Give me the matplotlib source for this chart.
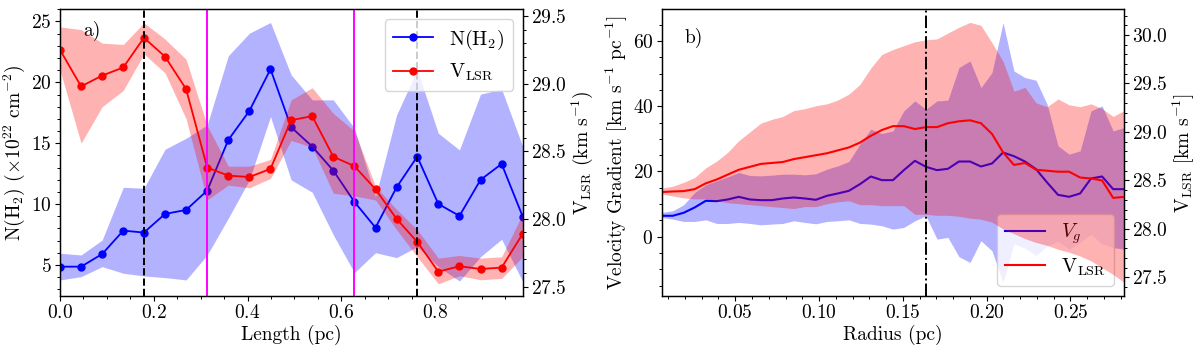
import matplotlib
matplotlib.use('Agg')
import matplotlib.pyplot as plt
from matplotlib.ticker import MultipleLocator

plt.rcParams['font.family'] = 'cmr10'
plt.rcParams['mathtext.fontset'] = 'cm'
plt.rcParams['axes.formatter.use_mathtext'] = True
plt.rcParams['font.size'] = 14
plt.rcParams['axes.linewidth'] = 0.9

# ---------------- Panel a data ----------------
length = [0.0, 0.045, 0.090, 0.135, 0.179, 0.224, 0.269, 0.314, 0.359, 0.404,
          0.449, 0.493, 0.538, 0.583, 0.628, 0.673, 0.718, 0.762, 0.807, 0.852,
          0.897, 0.942, 0.987]
nh2 = [4.86, 4.86, 5.9, 7.82, 7.66, 9.19, 9.52, 11.11, 15.27, 17.66,
       21.08, 16.32, 14.73, 12.75, 10.18, 8.07, 11.38, 13.9, 10.01, 9.03,
       11.99, 13.3, 8.97]
nh2_hi = [5.96, 5.82, 7.05, 11.38, 11.3, 14.5, 15.41, 16.5, 22.18, 24.04,
          24.92, 20.62, 18.56, 18.56, 16.23, 10.6, 17.33, 21.03, 15.82, 14.45,
          19.03, 19.44, 14.73]
nh2_lo = [3.77, 4.04, 4.86, 4.32, 4.1, 3.96, 3.77, 5.82, 8.84, 11.99,
          17.19, 11.99, 10.97, 7.47, 4.37, 6.01, 5.6, 6.51, 4.86, 3.68,
          5.68, 7.11, 3.63]
vlsr_a = [29.25, 28.98, 29.06, 29.12, 29.34, 29.2, 28.96, 28.38, 28.32, 28.31,
          28.37, 28.73, 28.76, 28.46, 28.39, 28.22, 28.0, 27.83, 27.61, 27.65,
          27.63, 27.64, 27.89]
vlsr_a_hi = [29.42, 29.4, 29.3, 29.29, 29.45, 29.33, 29.18, 28.69, 28.39, 28.39,
             28.44, 28.88, 28.97, 28.78, 28.65, 28.24, 28.07, 27.92, 27.71, 27.73,
             27.71, 27.72, 28.04]
vlsr_a_lo = [29.1, 28.56, 28.83, 28.95, 29.22, 29.08, 28.74, 28.14, 28.25, 28.23,
             28.3, 28.58, 28.53, 28.19, 28.17, 28.14, 27.92, 27.72, 27.52, 27.58,
             27.55, 27.56, 27.72]
dashed_a = [0.179, 0.762]
magenta_a = [0.314, 0.628]

# ---------------- Panel b data ----------------
radius = [0.0061, 0.0127, 0.0192, 0.0258, 0.0324, 0.0390, 0.0455, 0.0521, 0.0587,
          0.0652, 0.0718, 0.0784, 0.0849, 0.0915, 0.0981, 0.1047, 0.1112, 0.1178,
          0.1244, 0.1309, 0.1375, 0.1441, 0.1506, 0.1572, 0.1638, 0.1704, 0.1769,
          0.1835, 0.1901, 0.1966, 0.2032, 0.2098, 0.2163, 0.2229, 0.2295, 0.2361,
          0.2426, 0.2492, 0.2558, 0.2623, 0.2689, 0.2755, 0.2820]
vg = [6.43, 6.43, 7.35, 8.98, 11.02, 10.92, 11.43, 12.24, 11.43, 11.22,
      11.22, 11.73, 12.04, 11.73, 11.33, 12.55, 13.27, 14.08, 16.12, 18.47,
      17.35, 17.35, 20.41, 23.27, 21.43, 20.41, 20.82, 23.06, 23.06, 21.53,
      22.45, 25.82, 24.69, 23.06, 20.71, 16.63, 12.86, 12.24, 13.27, 17.86,
      18.47, 14.59, 14.59]
vg_hi = [7.45, 7.96, 9.8, 13.57, 15.92, 17.14, 18.37, 19.69, 18.78, 18.67,
         18.88, 19.18, 19.18, 18.98, 19.3, 20.71, 21.73, 23.06, 28.37, 32.96,
         31.63, 32.45, 38.57, 41.63, 39.08, 41.63, 41.84, 51.84, 53.88, 45.71,
         50.31, 65.61, 50.82, 48.78, 47.96, 40.6, 27.86, 25.31, 26.33, 38.57,
         40.1, 32.45, 33.47]
vg_lo = [5.92, 5.41, 4.69, 4.69, 5.2, 4.08, 4.08, 4.39, 4.08, 3.67,
         3.88, 4.08, 4.9, 4.39, 3.98, 4.69, 4.9, 5.2, 4.08, 3.88,
         3.37, 2.35, 2.86, 4.9, 6.43, -0.71, -0.2, -6.12, -7.86, -1.2,
         -4.3, -14.0, -2.2, -3.5, -5.8, -2.8, -1.4, -3.8, -1.7, 0.8,
         -2.2, -3.3, -3.8]
vlsr_b = [28.38, 28.386, 28.39, 28.41, 28.47, 28.51, 28.56, 28.61, 28.64, 28.67,
          28.68, 28.69, 28.72, 28.74, 28.76, 28.78, 28.81, 28.84, 28.89, 28.96,
          29.02, 29.06, 29.06, 29.03, 29.05, 29.05, 29.09, 29.11, 29.12, 29.09,
          28.98, 28.79, 28.66, 28.68, 28.61, 28.6, 28.59, 28.59, 28.53, 28.52,
          28.5, 28.32, 28.33]
vlsr_b_hi = [28.42, 28.44, 28.48, 28.53, 28.63, 28.70, 28.79, 28.91, 29.0, 29.09,
             29.13, 29.16, 29.22, 29.24, 29.27, 29.29, 29.33, 29.39, 29.49, 29.66,
             29.8, 29.85, 29.89, 29.93, 29.95, 29.96, 30.02, 30.08, 30.13, 30.1,
             29.92, 29.73, 29.42, 29.46, 29.3, 29.26, 29.34, 29.28, 29.26, 29.29,
             29.24, 29.16, 29.22]
vlsr_b_lo = [28.36, 28.34, 28.32, 28.31, 28.31, 28.29, 28.27, 28.26, 28.25, 28.24,
             28.23, 28.22, 28.21, 28.23, 28.23, 28.26, 28.28, 28.29, 28.25, 28.25,
             28.24, 28.24, 28.24, 28.15, 28.15, 28.14, 28.14, 28.13, 28.11, 28.1,
             28.07, 28.0, 27.95, 27.9, 27.86, 27.83, 27.79, 27.76, 27.72, 27.67,
             27.6, 27.53, 27.45]
dashdot_b = [0.1638]

# ---------------- Figure ----------------
fig = plt.figure(figsize=(12, 3.55), dpi=100)
axa = fig.add_axes([0.05, 0.1662, 0.3856, 0.8076])
axb = fig.add_axes([0.5514, 0.1662, 0.3853, 0.8076])


def style_ticks(ax):
    ax.tick_params(which='major', length=3.5, width=0.8, pad=2.5)
    ax.tick_params(which='minor', length=2, width=0.7)


# Panel a
axa.fill_between(length, nh2_lo, nh2_hi, color='blue', alpha=0.3, lw=0)
la, = axa.plot(length, nh2, '-o', color='blue', lw=1.3, ms=5, label=r'N(H$_2$)')
axa.set_xlim(length[0], length[-1])
axa.set_ylim(2.45, 26.0)
axa.set_xlabel('Length (pc)', labelpad=2)
axa.set_ylabel(r'N(H$_2$) ($\times 10^{22}$ cm$^{-2}$)', labelpad=3)
axa.xaxis.set_major_locator(MultipleLocator(0.2))
axa.xaxis.set_minor_locator(MultipleLocator(0.05))
axa.yaxis.set_major_locator(MultipleLocator(5))
axa.yaxis.set_minor_locator(MultipleLocator(1))
style_ticks(axa)
axa.text(0.05, 0.958, 'a)', transform=axa.transAxes, va='top', ha='left')

axa2 = axa.twinx()
axa2.fill_between(length, vlsr_a_lo, vlsr_a_hi, color='red', alpha=0.3, lw=0)
lb, = axa2.plot(length, vlsr_a, '-o', color='red', lw=1.3, ms=5,
                label=r'V$_{\mathrm{LSR}}$')
for xv in dashed_a:
    axa2.axvline(xv, color='black', ls='--', lw=1.4)
for xv in magenta_a:
    axa2.axvline(xv, color='magenta', ls='-', lw=1.4)
axa2.set_ylim(27.43, 29.55)
axa2.set_ylabel(r'V$_{\mathrm{LSR}}$ (km s$^{-1}$)', labelpad=2)
axa2.yaxis.set_major_locator(MultipleLocator(0.5))
axa2.yaxis.set_minor_locator(MultipleLocator(0.1))
style_ticks(axa2)
axa2.legend(handles=[la, lb], loc='upper right', fontsize=14.5)

# Panel b
axb.fill_between(radius, vg_lo, vg_hi, color='blue', alpha=0.3, lw=0)
lc, = axb.plot(radius, vg, '-', color='blue', lw=1.5, label=r'$V_g$')
axb.set_xlim(radius[0], radius[-1])
axb.set_ylim(-18.15, 69.7)
axb.set_xlabel('Radius (pc)', labelpad=2)
axb.set_ylabel(r'Velocity Gradient [km s$^{-1}$ pc$^{-1}$]', labelpad=2)
axb.xaxis.set_major_locator(MultipleLocator(0.05))
axb.xaxis.set_minor_locator(MultipleLocator(0.01))
axb.yaxis.set_major_locator(MultipleLocator(20))
axb.yaxis.set_minor_locator(MultipleLocator(5))
style_ticks(axb)
axb.text(0.05, 0.936, 'b)', transform=axb.transAxes, va='top', ha='left')

axb2 = axb.twinx()
axb2.fill_between(radius, vlsr_b_lo, vlsr_b_hi, color='red', alpha=0.3, lw=0)
ld, = axb2.plot(radius, vlsr_b, '-', color='red', lw=1.5, label=r'V$_{\mathrm{LSR}}$')
for xv in dashdot_b:
    axb2.axvline(xv, color='black', ls='-.', lw=1.4)
axb2.set_ylim(27.308, 30.265)
axb2.set_ylabel(r'V$_{\mathrm{LSR}}$ [km s$^{-1}$]', labelpad=2)
axb2.yaxis.set_major_locator(MultipleLocator(0.5))
axb2.yaxis.set_minor_locator(MultipleLocator(0.1))
style_ticks(axb2)
axb.legend(handles=[lc, ld], loc='lower right', fontsize=14.5)

fig.savefig('out.png', dpi=100)
